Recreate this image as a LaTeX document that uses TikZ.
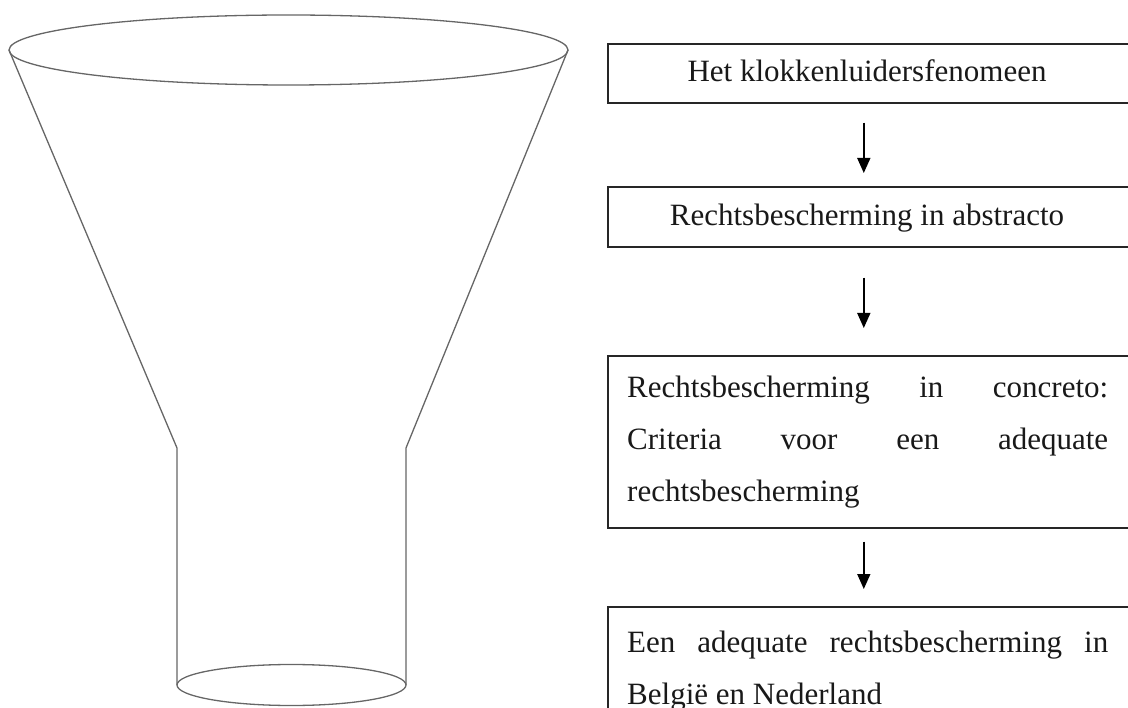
\documentclass[tikz,border=0pt]{standalone}
\usepackage{fontspec}
\setmainfont{Liberation Serif}
\usetikzlibrary{arrows.meta}
\tikzset{
  funnelline/.style={draw=black!60, line width=1.3pt},
  boxshape/.style={draw=black!85, line width=1.6pt, rectangle, anchor=north west, inner sep=0pt, minimum width=523pt},
  txt/.style={font=\fontsize{31}{52}\selectfont, inner sep=0pt, text=black!90},
  flowarrow/.style={-{Triangle[length=15pt,width=13pt]}, line width=1.5pt, draw=black}
}
\begin{document}
\begin{tikzpicture}[x=1pt,y=-1pt]
\useasboundingbox (0,0) rectangle (1128,708);
\clip (0,0) rectangle (1128,708);
% funnel
\coordinate (tl) at (9,50);
\coordinate (tr) at (568,50);
\coordinate (kl) at (177,448);
\coordinate (kr) at (406,448);
\coordinate (bl) at (177,685);
\coordinate (br) at (406,685);
\draw[funnelline] (288.5,50) ellipse [x radius=279.5, y radius=35];
\draw[funnelline] (tl) -- (kl) -- (bl);
\draw[funnelline] (tr) -- (kr) -- (br);
\draw[funnelline] (291.5,685) ellipse [x radius=114.5, y radius=20.5];
% boxes
\node[boxshape, minimum height=59pt] (b1) at (607,43) {};
\node[boxshape, minimum height=60pt] (b2) at (607,186) {};
\node[boxshape, minimum height=172pt] (b3) at (607,355) {};
\node[boxshape, minimum height=120pt] (b4) at (607,606) {};
% texts
\node[txt, anchor=base] (t1) at (867,82) {Het klokkenluidersfenomeen};
\node[txt, anchor=base] (t2) at (867,226) {Rechtsbescherming in abstracto};
\node[txt, anchor=base west] (t3a) at (627,398) {\makebox[481pt][s]{Rechtsbescherming in concreto:}};
\node[txt, anchor=base west] (t3b) at (627,450) {\makebox[481pt][s]{Criteria voor een adequate}};
\node[txt, anchor=base west] (t3c) at (627,502) {rechtsbescherming};
\node[txt, anchor=base west] (t4a) at (627,652) {\makebox[481pt][s]{Een adequate rechtsbescherming in}};
\node[txt, anchor=base west] (t4b) at (627,704) {België en Nederland};
% arrows
\draw[flowarrow] ([xshift=-5.5pt,yshift=-19pt]b1.south) -- ([xshift=-5.5pt,yshift=13pt]b2.north);
\draw[flowarrow] ([xshift=-5.5pt,yshift=-30pt]b2.south) -- ([xshift=-5.5pt,yshift=27pt]b3.north);
\draw[flowarrow] ([xshift=-5.5pt,yshift=-13pt]b3.south) -- ([xshift=-5.5pt,yshift=17pt]b4.north);
\end{tikzpicture}
\end{document}
